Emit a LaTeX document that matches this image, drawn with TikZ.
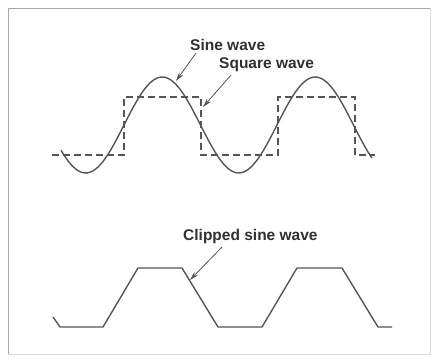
\documentclass[tikz,border=0pt]{standalone}
\usepackage{fontspec}
\usepackage{tikz}
\usetikzlibrary{arrows.meta,calc}
\newfontfamily\labelfont{Liberation Sans}
\definecolor{wavegray}{HTML}{555555}
\definecolor{textgray}{HTML}{303030}
\definecolor{framegray}{HTML}{A8A8A8}

\begin{document}
\begin{tikzpicture}[x=1pt, y=-1pt,
  waveline/.style={line width=1.4pt, draw=wavegray, line join=round},
  squareline/.style={line width=1.3pt, draw=wavegray, dash pattern=on 7pt off 4pt},
  pointer/.style={line width=0.8pt, draw=wavegray, -{Stealth[length=9pt, width=5pt]}},
  wavelabel/.style={font=\labelfont\bfseries\fontsize{15.5}{18}\selectfont, text=textgray, inner sep=0pt, anchor=base west},
]
\useasboundingbox (0,0) rectangle (432,359);
% frame (top and left darker, as in the scan)
\draw[framegray!40, line width=0.8pt] (430,8) -- (430,354) -- (8,354);
\draw[framegray, line width=1pt] (8,354) -- (8,8) -- (430,8);

% upper panel: centre 125, amplitude 48, period 153
\def\yc{125}\def\amp{48}\def\per{153}
\draw[waveline] plot[domain=61:372, samples=120, smooth] (\x, {\yc - \amp*sin((\x-124)/\per*360)});
% square wave, in phase with the sine
\draw[squareline] (52,155) -- (124,155) -- (124,97) -- (201,97) -- (201,155)
  -- (278,155) -- (278,97) -- (355,97) -- (355,155) -- (375,155);

% lower panel: clipped sine
\draw[waveline] (53,317) -- (60,327) -- (103,327) -- (138,268) -- (182,268) -- (218,327)
  -- (262,327) -- (297,268) -- (342,268) -- (378,327) -- (392,327);

% labels
\node[wavelabel] (sinelabel) at (190,50) {Sine wave};
\node[wavelabel] (squarelabel) at (219,68) {Square wave};
\node[wavelabel] (clippedlabel) at (183,240) {Clipped sine wave};

% pointers
\coordinate (sinetail) at (196,53);
\coordinate (sinetip) at (176,81);
\coordinate (squaretail) at (231,75);
\coordinate (squaretip) at (203,107);
\coordinate (clippedtail) at (222,247);
\coordinate (clippedtip) at (190,280);
\draw[pointer] (sinetail) -- (sinetip);
\draw[pointer] (squaretail) -- (squaretip);
\draw[pointer] (clippedtail) -- (clippedtip);
\end{tikzpicture}
\end{document}
